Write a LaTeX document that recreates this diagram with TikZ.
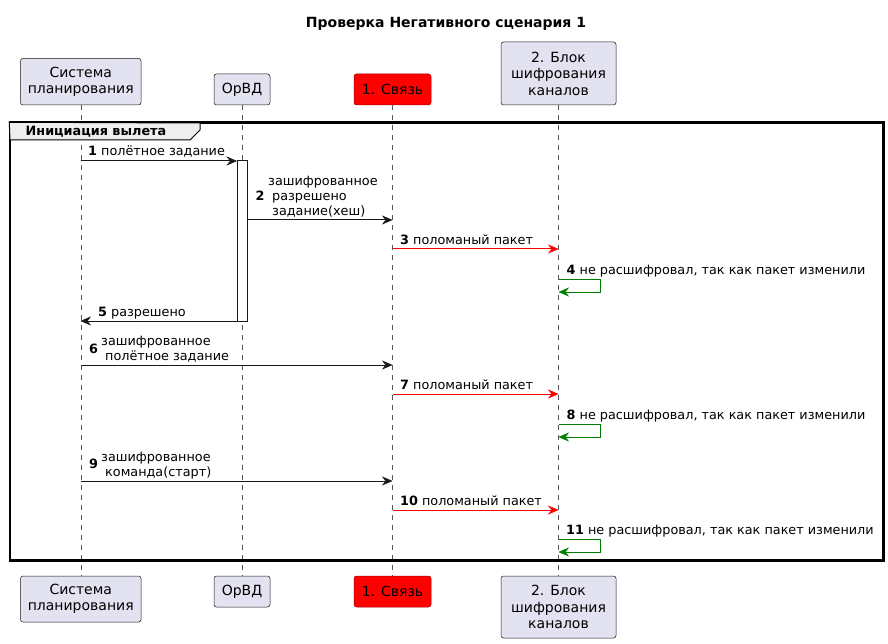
\documentclass[tikz,border=0pt]{standalone}
\usepackage{fontspec}
\setmainfont{DejaVu Sans}
\usetikzlibrary{arrows.meta}
\definecolor{partfill}{HTML}{E2E2F0}
\definecolor{partline}{HTML}{181818}
\definecolor{redpart}{HTML}{FF0000}
\definecolor{redline}{HTML}{A00000}
\definecolor{msgred}{HTML}{FF0000}
\definecolor{msggreen}{HTML}{008000}
\definecolor{tabfill}{HTML}{EEEEEE}
\definecolor{lifecol}{HTML}{555555}
\newcommand\partfont{\fontsize{14}{16.5}\selectfont}
\newcommand\msgfont{\fontsize{12.8}{15}\selectfont}
\begin{document}
\begin{tikzpicture}[x=1pt,y=-1pt,
  partbox/.style={draw=partline, line width=0.5pt, fill=partfill, rounded corners=2.5pt,
    align=center, font=\partfont, inner sep=0pt},
  lifeline/.style={draw=lifecol, line width=0.5pt, dash pattern=on 5pt off 5pt},
  msg/.style={draw=partline, line width=1pt, -{Stealth[length=10.5pt,width=9pt,inset=3.5pt,line width=0.5pt]}},
  msgr/.style={msg, draw=msgred, color=msgred},
  msgg/.style={msg, draw=msggreen, color=msggreen},
  lbl/.style={font=\msgfont, inner sep=0pt, anchor=base west},
  num/.style={font=\msgfont\bfseries, inner sep=0pt, anchor=base west}]
\useasboundingbox (0,0) rectangle (888,644);
\fill[white] (0,0) rectangle (888,644);

% title
\node[font=\fontsize{14}{16}\selectfont\bfseries, inner sep=0pt, anchor=base] (title) at (446,28) {Проверка Негативного сценария 1};

% participants (top)
\node[partbox, minimum width=120.5pt, minimum height=46.5pt] (sysT) at (80.75,81.75) {Система\\планирования};
\node[partbox, minimum width=56pt, minimum height=31pt] (orvdT) at (242,89.5) {ОрВД};
\node[partbox, fill=redpart, draw=redline, minimum width=77pt, minimum height=31pt] (svT) at (392.5,89.5) {1. Связь};
\node[partbox, minimum width=115pt, minimum height=63pt] (blkT) at (558.5,73.5) {2. Блок\\шифрования\\каналов};
% participants (bottom)
\node[partbox, minimum width=120.5pt, minimum height=46pt] (sysB) at (80.75,599) {Система\\планирования};
\node[partbox, minimum width=56pt, minimum height=31pt] (orvdB) at (242,591.5) {ОрВД};
\node[partbox, fill=redpart, draw=redline, minimum width=77pt, minimum height=31pt] (svB) at (392.5,591.5) {1. Связь};
\node[partbox, minimum width=115pt, minimum height=62pt] (blkB) at (558.5,607) {2. Блок\\шифрования\\каналов};

% lifelines
\draw[lifeline] (sysT.south) -- (sysB.north);
\draw[lifeline] (orvdT.south) -- (orvdB.north);
\draw[lifeline] (svT.south) -- (svB.north);
\draw[lifeline] (blkT.south) -- (blkB.north);

% group frame
\node[draw=black, line width=1.5pt, minimum width=873pt, minimum height=437pt, inner sep=0pt] (grp) at (446.5,341.5) {};
\draw[black, line width=1pt, fill=tabfill] (grp.north west) -- (200,123) -- (200,130) -- (190,140) -- (10,140) -- cycle;
\draw[black, line width=1.5pt] (grp.north west) rectangle (grp.south east);
\node[font=\msgfont\bfseries, inner sep=0pt, anchor=base west] (grpl) at (25.5,136) {Инициация вылета};

% activation
\node[draw=partline, fill=white, line width=1pt, minimum width=10pt, minimum height=160pt, inner sep=0pt] (act) at (242,241) {};

% coordinates
\coordinate (m1a) at (80.5,161);  \coordinate (m1b) at (237,161);
\coordinate (m2a) at (247,220);   \coordinate (m2b) at (392.5,220);
\coordinate (m3a) at (392.5,249); \coordinate (m3b) at (558.5,249);
\coordinate (m4a) at (558.5,279); \coordinate (m4b) at (600.5,279);
\coordinate (m4c) at (600.5,292); \coordinate (m4d) at (558.5,292);
\coordinate (m5a) at (237,321);   \coordinate (m5b) at (80.5,321);
\coordinate (m6a) at (80.5,365);  \coordinate (m6b) at (392.5,365);
\coordinate (m7a) at (392.5,394); \coordinate (m7b) at (558.5,394);
\coordinate (m8a) at (558.5,424); \coordinate (m8b) at (600.5,424);
\coordinate (m8c) at (600.5,437); \coordinate (m8d) at (558.5,437);
\coordinate (m9a) at (80.5,481);  \coordinate (m9b) at (392.5,481);
\coordinate (m10a) at (392.5,510); \coordinate (m10b) at (558.5,510);
\coordinate (m11a) at (558.5,539.5); \coordinate (m11b) at (600.5,539.5);
\coordinate (m11c) at (600.5,552); \coordinate (m11d) at (558.5,552);

% messages
\draw[msg] (m1a) -- (m1b);
\draw[msg] (m2a) -- (m2b);
\draw[msgr] (m3a) -- (m3b);
\draw[msgg] (m4a) -- (m4b) -- (m4c) -- (m4d);
\draw[msg] (m5a) -- (m5b);
\draw[msg] (m6a) -- (m6b);
\draw[msgr] (m7a) -- (m7b);
\draw[msgg] (m8a) -- (m8b) -- (m8c) -- (m8d);
\draw[msg] (m9a) -- (m9b);
\draw[msgr] (m10a) -- (m10b);
\draw[msgg] (m11a) -- (m11b) -- (m11c) -- (m11d);

% labels
\node[lbl] (l1) at (88,156) {\textbf{1} полётное задание};
\node[num] (n2) at (255.5,200.5) {2};
\node[lbl] (l2a) at (268,185.5) {зашифрованное};
\node[lbl] (l2b) at (272,200.5) {разрешено};
\node[lbl] (l2c) at (272,215.5) {задание(хеш)};
\node[lbl] (l3) at (400,244) {\textbf{3} поломаный пакет};
\node[lbl] (l4) at (566.5,274.5) {\textbf{4} не расшифровал, так как пакет изменили};
\node[lbl] (l5) at (98,316) {\textbf{5} разрешено};
\node[num] (n6) at (89,353) {6};
\node[lbl] (l6a) at (101,345.5) {зашифрованное};
\node[lbl] (l6b) at (105,360) {полётное задание};
\node[lbl] (l7) at (400,389) {\textbf{7} поломаный пакет};
\node[lbl] (l8) at (566.5,419) {\textbf{8} не расшифровал, так как пакет изменили};
\node[num] (n9) at (89,468.5) {9};
\node[lbl] (l9a) at (101,461) {зашифрованное};
\node[lbl] (l9b) at (105,476) {команда(старт)};
\node[lbl] (l10) at (400,505) {\textbf{10} поломаный пакет};
\node[lbl] (l11) at (566,534.5) {\textbf{11} не расшифровал, так как пакет изменили};
\end{tikzpicture}
\end{document}
